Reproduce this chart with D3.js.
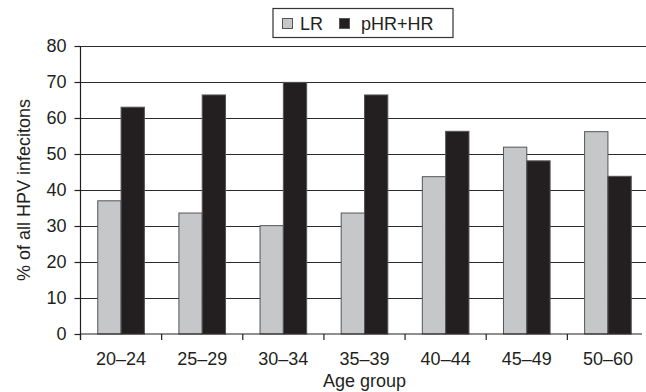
<!DOCTYPE html>
<html>
<head>
<meta charset="utf-8">
<script src="https://cdn.jsdelivr.net/npm/d3@7"></script>
<style>
  html, body { margin: 0; padding: 0; background: #fff; }
  svg { display: block; }
  text { font-family: "Liberation Sans", Arial, sans-serif; fill: #231f20; }
</style>
</head>
<body>
<svg id="chart" width="646" height="392"></svg>
<script>
const categories = ["20–24", "25–29", "30–34", "35–39", "40–44", "45–49", "50–60"];
const seriesNames = ["LR", "pHR+HR"];
const lrValues = [37.0, 33.6, 30.1, 33.6, 43.7, 51.9, 56.2];
const hrValues = [63.0, 66.4, 69.9, 66.4, 56.3, 48.1, 43.8];
const yTicks = [0, 10, 20, 30, 40, 50, 60, 70, 80];
const yTitle = "% of all HPV infecitons";
const xTitle = "Age group";

(function () {
const colors = { "LR": "#c6c7c9", "pHR+HR": "#231f20" };
const ink = "#231f20";

const svg = d3.select("#chart");
const mLeft = 80.5, mRight = 648.5, mTop = 46, mBottom = 334;

const x = d3.scaleBand().domain(categories).range([mLeft, mRight]).paddingInner(0).paddingOuter(0);
const xi = d3.scaleBand().domain(seriesNames).range([0, x.bandwidth()]).paddingInner(0).paddingOuter(0.74);
const y = d3.scaleLinear().domain([0, 80]).range([mBottom, mTop]);

const rows = categories.map((c, i) => ({ cat: c, values: [
  { s: "LR", v: lrValues[i] },
  { s: "pHR+HR", v: hrValues[i] }
]}));

// gridlines
svg.append("g")
  .attr("transform", `translate(${mLeft},0)`)
  .call(d3.axisLeft(y).tickValues(yTicks.filter(t => t > 0)).tickSize(-(646 - mLeft)).tickFormat(""))
  .call(g => g.select(".domain").remove())
  .call(g => g.selectAll("line").attr("stroke", "#2a2a2a").attr("stroke-width", 1.2));

// bars
svg.append("g").selectAll("g").data(rows).join("g")
  .attr("transform", d => `translate(${x(d.cat)},0)`)
  .selectAll("rect").data(d => d.values).join("rect")
  .attr("x", d => xi(d.s))
  .attr("width", xi.bandwidth())
  .attr("y", d => y(d.v))
  .attr("height", d => y(0) - y(d.v))
  .attr("fill", d => colors[d.s])
  .attr("stroke", "#555")
  .attr("stroke-width", 1);

// y axis
const yAxis = svg.append("g")
  .attr("transform", `translate(${mLeft},0)`)
  .call(d3.axisLeft(y).tickValues(yTicks).tickSize(6).tickPadding(8).tickSizeOuter(0))
  .call(g => g.select(".domain").remove());
yAxis.selectAll("line").attr("stroke", ink).attr("stroke-width", 1.2);
yAxis.selectAll("text").attr("font-size", 18).attr("font-family", "Liberation Sans, Arial, sans-serif").attr("fill", ink);

svg.append("line")
  .attr("x1", mLeft).attr("x2", mLeft).attr("y1", mTop).attr("y2", mBottom + 6)
  .attr("stroke", ink).attr("stroke-width", 1.2);

// x axis line
svg.append("line")
  .attr("x1", mLeft).attr("x2", 642).attr("y1", mBottom).attr("y2", mBottom)
  .attr("stroke", ink).attr("stroke-width", 1.2);

// x tick marks at band boundaries
svg.append("g").selectAll("line").data(categories).join("line")
  .attr("x1", d => x(d)).attr("x2", d => x(d))
  .attr("y1", mBottom).attr("y2", mBottom + 6)
  .attr("stroke", ink).attr("stroke-width", 1.2);

// x tick labels
const xAxis = svg.append("g")
  .attr("transform", `translate(0,${mBottom})`)
  .call(d3.axisBottom(x).tickSize(0).tickPadding(18))
  .call(g => g.select(".domain").remove());
xAxis.selectAll("text").attr("font-size", 18).attr("font-family", "Liberation Sans, Arial, sans-serif").attr("fill", ink);

// titles
svg.append("text")
  .attr("x", (mLeft + mRight) / 2).attr("y", 386.5)
  .attr("text-anchor", "middle").attr("font-size", 18)
  .text(xTitle);

svg.append("text")
  .attr("transform", `translate(30,${(mTop + mBottom) / 2}) rotate(-90)`)
  .attr("text-anchor", "middle").attr("font-size", 18)
  .text(yTitle);

// legend
const lg = svg.append("g");
lg.append("rect")
  .attr("x", 273).attr("y", 8.5).attr("width", 180).attr("height", 29)
  .attr("fill", "#fff").attr("stroke", "#333").attr("stroke-width", 1.2);
const legendItems = [
  { s: "LR", sx: 282.5, tx: 300 },
  { s: "pHR+HR", sx: 339.5, tx: 361 }
];
legendItems.forEach(it => {
  lg.append("rect")
    .attr("x", it.sx).attr("y", 18.5).attr("width", 10).attr("height", 10)
    .attr("fill", colors[it.s]).attr("stroke", "#555").attr("stroke-width", 1);
  lg.append("text")
    .attr("x", it.tx).attr("y", 30).attr("font-size", 18)
    .text(it.s);
});
})();
</script>
</body>
</html>
